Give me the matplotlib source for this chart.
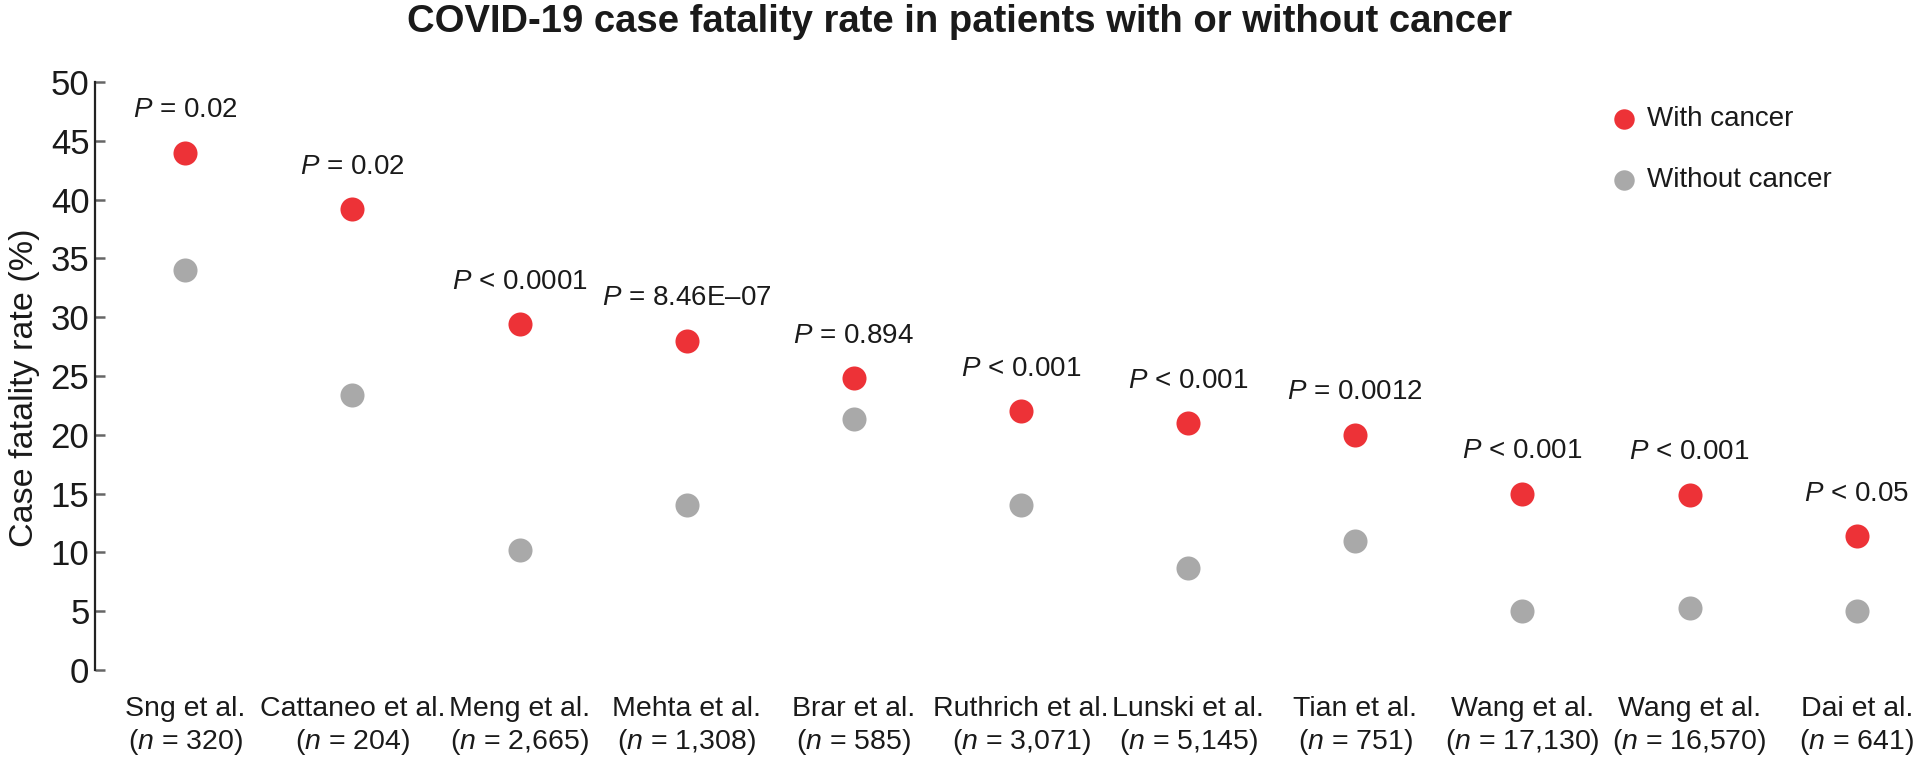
import matplotlib
matplotlib.use("Agg")
import matplotlib.pyplot as plt

studies = ["Sng et al.", "Cattaneo et al.", "Meng et al.", "Mehta et al.", "Brar et al.",
           "Ruthrich et al.", "Lunski et al.", "Tian et al.", "Wang et al.", "Wang et al.", "Dai et al."]
sample_sizes = ["320", "204", "2,665", "1,308", "585", "3,071", "5,145", "751", "17,130", "16,570", "641"]
with_cancer = [44.0, 39.2, 29.4, 28.0, 24.8, 22.0, 21.0, 20.0, 15.0, 14.9, 11.4]
without_cancer = [34.0, 23.4, 10.2, 14.0, 21.3, 14.0, 8.7, 11.0, 5.0, 5.3, 5.0]
p_values = ["= 0.02", "= 0.02", "< 0.0001", "= 8.46E\u201307", "= 0.894", "< 0.001",
            "< 0.001", "= 0.0012", "< 0.001", "< 0.001", "< 0.05"]
y_ticks = [0, 5, 10, 15, 20, 25, 30, 35, 40, 45, 50]

FONT = "Liberation Sans"
plt.rcParams['font.family'] = [FONT, 'DejaVu Sans']
plt.rcParams['mathtext.fontset'] = 'custom'
plt.rcParams['mathtext.rm'] = FONT
plt.rcParams['mathtext.it'] = FONT + ':italic'

RED = "#ED3237"
GRAY = "#A9A9A9"
TXT = "#1a1a1a"

fig = plt.figure(figsize=(19.2, 7.63), dpi=100)
ax = fig.add_axes([0.0495, 0.122, 0.948, 0.7706])

x = list(range(len(studies)))
ax.scatter(x, with_cancer, s=300, color=RED, zorder=3, linewidths=0, label="With cancer")
ax.scatter(x, without_cancer, s=300, color=GRAY, zorder=3, linewidths=0, label="Without cancer")

for xi, yv, p in zip(x, with_cancer, p_values):
    ax.text(xi, yv + 3.6, r"$\mathit{P}$" + " " + p, ha="center", va="center",
            fontsize=20, color=TXT)

for xi, s, n in zip(x, studies, sample_sizes):
    ax.text(xi, -3.3, s, ha="center", va="center", fontsize=20.5, color=TXT)
    ax.text(xi, -6.1, "(" + r"$\mathit{n}$" + " = " + n + ")", ha="center", va="center",
            fontsize=20.5, color=TXT)

ax.set_xlim(-0.54, 10.35)
ax.set_ylim(0, 50)
ax.set_yticks(y_ticks)
ax.set_yticklabels([str(t) for t in y_ticks], fontsize=25, color=TXT)
ax.tick_params(axis="y", direction="in", length=7, width=1.8, color="#666666", pad=4)
ax.set_xticks([])
for sp in ["top", "right", "bottom"]:
    ax.spines[sp].set_visible(False)
ax.spines["left"].set_linewidth(1.6)
ax.spines["left"].set_color("#222222")
ax.spines["left"].set_bounds(0, 50)
ax.set_ylabel("Case fatality rate (%)", fontsize=24.5, color=TXT)
ax.yaxis.set_label_coords(-0.0305, 0.48)

leg = ax.legend(loc="upper left", bbox_to_anchor=(0.825, 0.982), frameon=False, fontsize=20,
                handlelength=1.0, handletextpad=0.3, labelspacing=1.25, markerscale=0.85,
                borderpad=0)
for t in leg.get_texts():
    t.set_color(TXT)

fig.text(0.5, 0.971, "COVID-19 case fatality rate in patients with or without cancer",
         ha="center", va="center", fontsize=27.5, fontweight="bold", color=TXT)

fig.savefig("out.png", dpi=100)
